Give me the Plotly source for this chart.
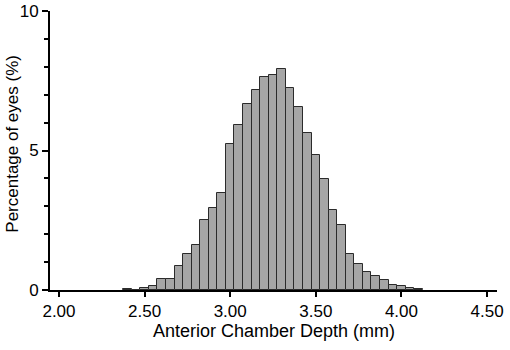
import plotly.graph_objects as go

# bin centres (mm) and percentage of eyes per bin
acd_bins = [2.40, 2.45, 2.50, 2.55, 2.60, 2.65, 2.70, 2.75, 2.80, 2.85,
            2.90, 2.95, 3.00, 3.05, 3.10, 3.15, 3.20, 3.25, 3.30, 3.35,
            3.40, 3.45, 3.50, 3.55, 3.60, 3.65, 3.70, 3.75, 3.80, 3.85,
            3.90, 3.95, 4.00, 4.05, 4.10]
pct_eyes = [0.05, 0.0, 0.06, 0.15, 0.38, 0.38, 0.87, 1.30, 1.62, 2.52,
            2.95, 3.49, 5.22, 5.93, 6.65, 7.18, 7.65, 7.69, 7.92, 7.25,
            6.56, 5.61, 4.85, 3.99, 2.88, 2.34, 1.30, 0.94, 0.65, 0.49,
            0.35, 0.17, 0.13, 0.06, 0.03]
x_ticks = [2.0, 2.5, 3.0, 3.5, 4.0, 4.5]
x_ticklabels = ['2.00', '2.50', '3.00', '3.50', '4.00', '4.50']

fig = go.Figure()
fig.add_trace(go.Bar(x=acd_bins, y=pct_eyes, width=0.05,
                     marker={'color': '#a6a6a6',
                             'line': {'color': '#2b2b2b', 'width': 1}}))

fig.update_layout(width=510, height=350,
                  margin={'l': 50, 'r': 13, 't': 11, 'b': 60},
                  plot_bgcolor='white', paper_bgcolor='white',
                  font={'family': 'Liberation Sans, Arial, sans-serif',
                        'size': 17, 'color': 'black'},
                  showlegend=False, bargap=0)

fig.update_xaxes(range=[1.9476, 4.558], tickvals=x_ticks, ticktext=x_ticklabels,
                 showline=True, linecolor='black', linewidth=2,
                 ticks='outside', ticklen=5, tickwidth=2, tickcolor='black',
                 showgrid=False, zeroline=False, automargin=False,
                 ticklabeloverflow='allow',
                 tickfont={'size': 17, 'color': 'black'})
fig.update_yaxes(range=[0, 10], tickvals=[0, 5, 10],
                 showline=True, linecolor='black', linewidth=2,
                 ticks='outside', ticklen=6, tickwidth=2, tickcolor='black',
                 minor={'dtick': 1, 'ticks': 'outside', 'ticklen': 4,
                        'tickwidth': 1.5, 'tickcolor': 'black', 'showgrid': False},
                 showgrid=False, zeroline=False, automargin=False,
                 ticklabeloverflow='allow',
                 tickfont={'size': 17, 'color': 'black'})

# axis titles placed as annotations to match the reference positions
fig.add_annotation(text='Anterior Chamber Depth (mm)', xref='paper', yref='paper',
                   x=0.5, y=-0.147, xanchor='center', yanchor='middle',
                   showarrow=False, font={'size': 18, 'color': 'black'})
fig.add_annotation(text='Percentage of eyes (%)', xref='paper', yref='paper',
                   x=-0.083, y=0.524, xanchor='center', yanchor='middle',
                   textangle=-90, showarrow=False, font={'size': 17, 'color': 'black'})

# drop the default 8px body margin so the figure sits at the window corner
fig.write_html("out.html", config={'displayModeBar': False},
               post_script="document.body.style.margin='0';")
